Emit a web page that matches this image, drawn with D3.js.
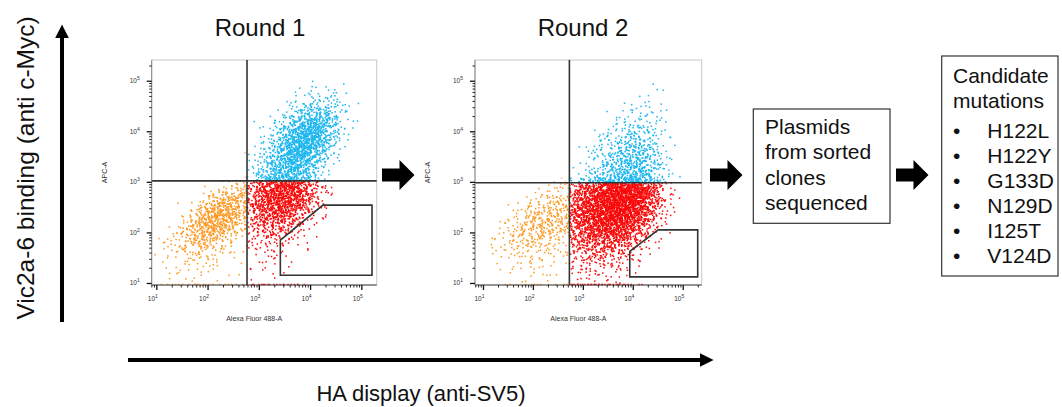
<html>
  <head>
     <meta charset="utf-8" />
     <script src="https://d3js.org/d3.v7.min.js"></script>
     <style>
        body { margin: 0; background: #fff; }
        text { font-family: "Liberation Sans", Arial, sans-serif; }
     </style>
  </head>
  <body>
     <div id="figure"></div>
     <script>
         // ---- data ----
         // event counts per 0.25-decade bin, rows from log10(APC) 5.0 down to 1.0,
         // columns from log10(Alexa488) 1.0 up to 5.0
         const round1Bins = [
            [0,0,0,0,0,0,0,0,0,0,0,2,3,3,2,0],
            [0,0,0,0,0,0,0,0,0,0,3,8,14,12,5,1],
            [0,0,0,0,0,0,0,0,0,3,12,35,50,35,8,1],
            [0,0,0,0,0,0,0,0,3,12,45,90,100,45,8,1],
            [0,0,0,0,0,0,0,1,6,25,80,130,110,35,5,0],
            [0,0,0,0,0,0,0,2,14,50,110,125,70,15,2,0],
            [0,0,0,0,0,0,0,4,22,65,100,80,30,5,0,0],
            [0,0,0,0,0,0,1,10,40,75,80,50,12,2,0,0],
            [0,0,0,0,3,12,22,35,85,120,120,75,22,4,0,0],
            [0,0,0,8,35,60,45,40,95,125,110,60,15,3,0,0],
            [0,0,8,40,85,85,40,30,70,85,65,25,6,1,0,0],
            [0,4,20,65,85,50,15,18,40,45,25,8,2,0,0,0],
            [2,10,30,45,30,12,4,8,18,15,8,3,1,0,0,0],
            [3,8,14,14,10,5,2,4,8,6,3,1,0,0,0,0],
            [2,4,6,6,5,2,1,2,4,2,1,0,0,0,0,0],
            [1,2,3,3,2,1,1,1,2,1,0,0,0,0,0,0]
         ];
         const round2Bins = [
            [0,0,0,0,0,0,0,0,0,0,0,0,0,1,1,0],
            [0,0,0,0,0,0,0,0,0,0,0,1,3,3,1,0],
            [0,0,0,0,0,0,0,0,0,0,2,4,7,5,2,0],
            [0,0,0,0,0,0,0,0,0,2,6,12,16,11,3,0],
            [0,0,0,0,0,0,0,0,2,6,14,24,26,16,4,0],
            [0,0,0,0,0,0,0,0,4,12,24,40,42,22,5,0],
            [0,0,0,0,0,0,0,0,6,18,34,55,60,30,7,0],
            [0,0,0,0,0,0,0,5,12,30,45,65,65,32,8,2],
            [0,0,0,0,3,6,10,45,90,130,160,180,150,70,15,0],
            [0,0,0,5,12,18,20,70,110,150,180,190,150,60,12,2],
            [0,0,6,16,28,30,25,75,115,150,170,160,110,40,8,0],
            [0,4,14,26,34,30,20,65,95,120,130,110,60,18,3,0],
            [2,6,14,22,22,14,8,40,60,75,75,50,25,6,0,0],
            [2,4,8,12,10,6,3,22,32,35,30,18,7,2,0,0],
            [0,2,4,5,5,3,2,10,14,14,12,6,2,0,0,0],
            [0,1,2,3,3,2,1,5,6,6,5,2,0,0,0,0]
         ];
         // events piled up on the bottom edge of each plot, per column
         const round1Floor = [2,3,3,4,3,3,2,4,5,5,4,2,0,0,0,0];
         const round2Floor = [0,1,2,2,3,2,2,6,7,7,6,4,2,0,0,0];

         // quadrant gate positions [Alexa488, APC]
         const round1Quad = [575, 1070];
         const round2Quad = [525, 980];

         // sort gate polygons [Alexa488, APC]
         const round1Gate = [[2570,72],[2570,14.5],[158000,14.5],[158000,355],[17400,355]];
         const round2Gate = [[8500,43],[8500,13.5],[195000,13.5],[195000,115],[31600,115]];

         const decades = [1, 2, 3, 4, 5];
         const roundTitles = ["Round 1", "Round 2"];
         const plasmidText = ["Plasmids", "from sorted", "clones", "sequenced"];
         const candidateText = ["Candidate", "mutations"];
         const mutations = ["H122L", "H122Y", "G133D", "N129D", "I125T", "V124D"];

         const colours = { orange: "#fb9a24", red: "#f80a0a", cyan: "#1db6ee", pink: "#f6b4b4" };

         // ---- layout ----
         const panels = [
            { bins: round1Bins, floor: round1Floor, quad: round1Quad, gate: round1Gate,
              left: 151.7, top: 60, width: 225, height: 225, xExt: [0.9, 5.29], yExt: [0.97, 5.42], titleX: 260 },
            { bins: round2Bins, floor: round2Floor, quad: round2Quad, gate: round2Gate,
              left: 475, top: 60, width: 226.7, height: 225, xExt: [0.83, 5.37], yExt: [0.97, 5.42], titleX: 583 }
         ];

         function halton(i, b) {
            let f = 1, r = 0;
            while (i > 0) { f /= b; r += f * (i % b); i = Math.floor(i / b); }
            return r;
         }

         const svg = d3.select("#figure").append("svg")
            .attr("width", 1062).attr("height", 407);

         panels.forEach(function(p, pi) {
            let x = d3.scaleLog().domain([10 ** p.xExt[0], 10 ** p.xExt[1]]).range([p.left, p.left + p.width]);
            let y = d3.scaleLog().domain([10 ** p.yExt[0], 10 ** p.yExt[1]]).range([p.top + p.height, p.top]);
            let g = svg.append("g");

            // frame
            g.append("rect").attr("x", p.left).attr("y", p.top)
               .attr("width", p.width).attr("height", p.height)
               .attr("fill", "none").attr("stroke", "#c8c8c8").attr("stroke-width", 1);

            // events: each bin's count spread with a tent kernel (halton sequence placement)
            let dots = [];
            let seed = 1 + pi * 997;
            p.bins.forEach(function(row, r) {
               row.forEach(function(n, c) {
                  let cx = 1.125 + 0.25 * c, cy = 5 - 0.25 * r - 0.125;
                  for (let i = 0; i < n; i++) {
                     seed++;
                     let lx = cx + (halton(seed, 2) + halton(seed, 5) - 1) * 0.25;
                     let ly = cy + (halton(seed, 3) + halton(seed, 7) - 1) * 0.25;
                     dots.push([lx, ly]);
                  }
               });
            });
            p.floor.forEach(function(n, c) {
               for (let i = 0; i < n; i++) {
                  seed++;
                  dots.push([1 + 0.25 * c + halton(seed, 2) * 0.25, p.yExt[0] + 0.01]);
               }
            });
            let lqx = Math.log10(p.quad[0]), lqy = Math.log10(p.quad[1]);
            function colourOf(d) {
               if (d[0] < lqx) return d[1] < lqy ? colours.orange : colours.pink;
               return d[1] < lqy ? colours.red : colours.cyan;
            }
            g.append("g").selectAll("rect")
               .data(dots.filter(d => d[0] > p.xExt[0] && d[0] < p.xExt[1] && d[1] >= p.yExt[0] && d[1] < p.yExt[1]))
               .join("rect")
               .attr("x", d => x(10 ** d[0]) - 0.75)
               .attr("y", d => y(10 ** d[1]) - 0.75)
               .attr("width", 1.5).attr("height", 1.5)
               .attr("fill", colourOf);

            // quadrant lines
            g.append("line").attr("x1", x(p.quad[0])).attr("x2", x(p.quad[0]))
               .attr("y1", p.top).attr("y2", p.top + p.height)
               .attr("stroke", "#333").attr("stroke-width", 1.6);
            g.append("line").attr("x1", p.left).attr("x2", p.left + p.width)
               .attr("y1", y(p.quad[1])).attr("y2", y(p.quad[1]))
               .attr("stroke", "#333").attr("stroke-width", 1.6);

            // sort gate
            g.append("polygon")
               .attr("points", p.gate.map(d => x(d[0]) + "," + y(d[1])).join(" "))
               .attr("fill", "none").attr("stroke", "#333").attr("stroke-width", 1.6);

            // axes with log ticks
            let xv = [], yv = [];
            for (let k = 0; k <= 5; k++) {
               for (let m = 1; m <= 9; m++) {
                  let v = m * 10 ** k, lv = Math.log10(v);
                  if (lv >= p.xExt[0] && lv <= p.xExt[1]) xv.push({ v: v, major: m === 1 });
                  if (lv >= p.yExt[0] && lv <= p.yExt[1]) yv.push({ v: v, major: m === 1 });
               }
            }
            g.append("line").attr("x1", p.left).attr("x2", p.left + p.width)
               .attr("y1", p.top + p.height).attr("y2", p.top + p.height)
               .attr("stroke", "#444").attr("stroke-width", 1);
            g.append("line").attr("x1", p.left).attr("x2", p.left)
               .attr("y1", p.top).attr("y2", p.top + p.height)
               .attr("stroke", "#888").attr("stroke-width", 1);
            g.append("g").selectAll("line").data(xv).join("line")
               .attr("x1", d => x(d.v)).attr("x2", d => x(d.v))
               .attr("y1", p.top + p.height).attr("y2", d => p.top + p.height + (d.major ? 5 : 2.5))
               .attr("stroke", "#111").attr("stroke-width", d => d.major ? 1.3 : 0.9);
            g.append("g").selectAll("line").data(yv).join("line")
               .attr("y1", d => y(d.v)).attr("y2", d => y(d.v))
               .attr("x1", p.left).attr("x2", d => p.left - (d.major ? 5 : 2.5))
               .attr("stroke", "#111").attr("stroke-width", d => d.major ? 1.3 : 0.9);

            decades.forEach(function(k) {
               let tx = g.append("text").attr("x", x(10 ** k) - 4).attr("y", p.top + p.height + 16)
                  .attr("font-size", 6.5).attr("fill", "#333").attr("text-anchor", "middle");
               tx.append("tspan").text("10");
               tx.append("tspan").attr("dy", -3).attr("font-size", 5).text(k);
               let ty = g.append("text").attr("x", p.left - 12).attr("y", y(10 ** k) + 2)
                  .attr("font-size", 6.5).attr("fill", "#333").attr("text-anchor", "end");
               ty.append("tspan").text("10");
               ty.append("tspan").attr("dy", -3).attr("font-size", 5).text(k);
            });

            g.append("text")
               .attr("transform", "translate(" + (p.left - 45) + "," + (p.top + p.height / 2) + ") rotate(-90)")
               .attr("text-anchor", "middle").attr("font-size", 7).attr("fill", "#333")
               .text("APC-A");
            g.append("text")
               .attr("x", p.left + p.width / 2 - 10).attr("y", p.top + p.height + 36)
               .attr("text-anchor", "middle").attr("font-size", 7).attr("fill", "#333")
               .text("Alexa Fluor 488-A");

            svg.append("text").attr("x", p.titleX).attr("y", 36)
               .attr("text-anchor", "middle").attr("font-size", 24).attr("fill", "#111")
               .text(roundTitles[pi]);
         });

         // ---- big axis arrows ----
         svg.append("defs").append("marker")
            .attr("id", "head").attr("viewBox", "0 0 10 10")
            .attr("refX", 0).attr("refY", 5)
            .attr("markerWidth", 3.4).attr("markerHeight", 3.4)
            .attr("markerUnits", "strokeWidth").attr("orient", "auto")
            .append("path").attr("d", "M0,0 L10,5 L0,10 Z").attr("fill", "#000");

         svg.append("line").attr("x1", 62).attr("y1", 322).attr("x2", 62).attr("y2", 38)
            .attr("stroke", "#000").attr("stroke-width", 4).attr("marker-end", "url(#head)");
         svg.append("line").attr("x1", 128).attr("y1", 360).attr("x2", 700).attr("y2", 360)
            .attr("stroke", "#000").attr("stroke-width", 4).attr("marker-end", "url(#head)");

         svg.append("text")
            .attr("transform", "translate(34,168) rotate(-90)")
            .attr("text-anchor", "middle").attr("font-size", 24.5).attr("fill", "#111")
            .text("Vic2a-6 binding (anti c-Myc)");
         svg.append("text").attr("x", 421).attr("y", 401)
            .attr("text-anchor", "middle").attr("font-size", 22).attr("fill", "#111")
            .text("HA display (anti-SV5)");

         // ---- block arrows between steps ----
         const blockArrows = [382, 710, 896];
         blockArrows.forEach(function(ax) {
            svg.append("path")
               .attr("d", "M" + ax + ",168.5 h17.5 v-8.5 l15,15 l-15,15 v-8.5 h-17.5 Z")
               .attr("fill", "#000");
         });

         // ---- text boxes ----
         svg.append("rect").attr("x", 753.3).attr("y", 109).attr("width", 136.7).attr("height", 114.3)
            .attr("fill", "#fff").attr("stroke", "#333").attr("stroke-width", 1.2);
         svg.append("g").selectAll("text").data(plasmidText).join("text")
            .attr("x", 765).attr("y", (d, i) => 133.5 + i * 25.5)
            .attr("font-size", 21).attr("fill", "#111").text(d => d);

         svg.append("rect").attr("x", 941.7).attr("y", 56).attr("width", 116.3).attr("height", 220)
            .attr("fill", "#fff").attr("stroke", "#333").attr("stroke-width", 1.2);
         svg.append("g").selectAll("text").data(candidateText).join("text")
            .attr("x", 953).attr("y", (d, i) => 83.3 + i * 25)
            .attr("font-size", 21).attr("fill", "#111").text(d => d);
         let items = svg.append("g").selectAll("g").data(mutations).join("g");
         items.append("text").attr("x", 953).attr("y", (d, i) => 138.3 + i * 25)
            .attr("font-size", 21).attr("fill", "#111").text("\u2022");
         items.append("text").attr("x", 987.3).attr("y", (d, i) => 138.3 + i * 25)
            .attr("font-size", 21).attr("fill", "#111").text(d => d);
     </script>
  </body>
</html>
